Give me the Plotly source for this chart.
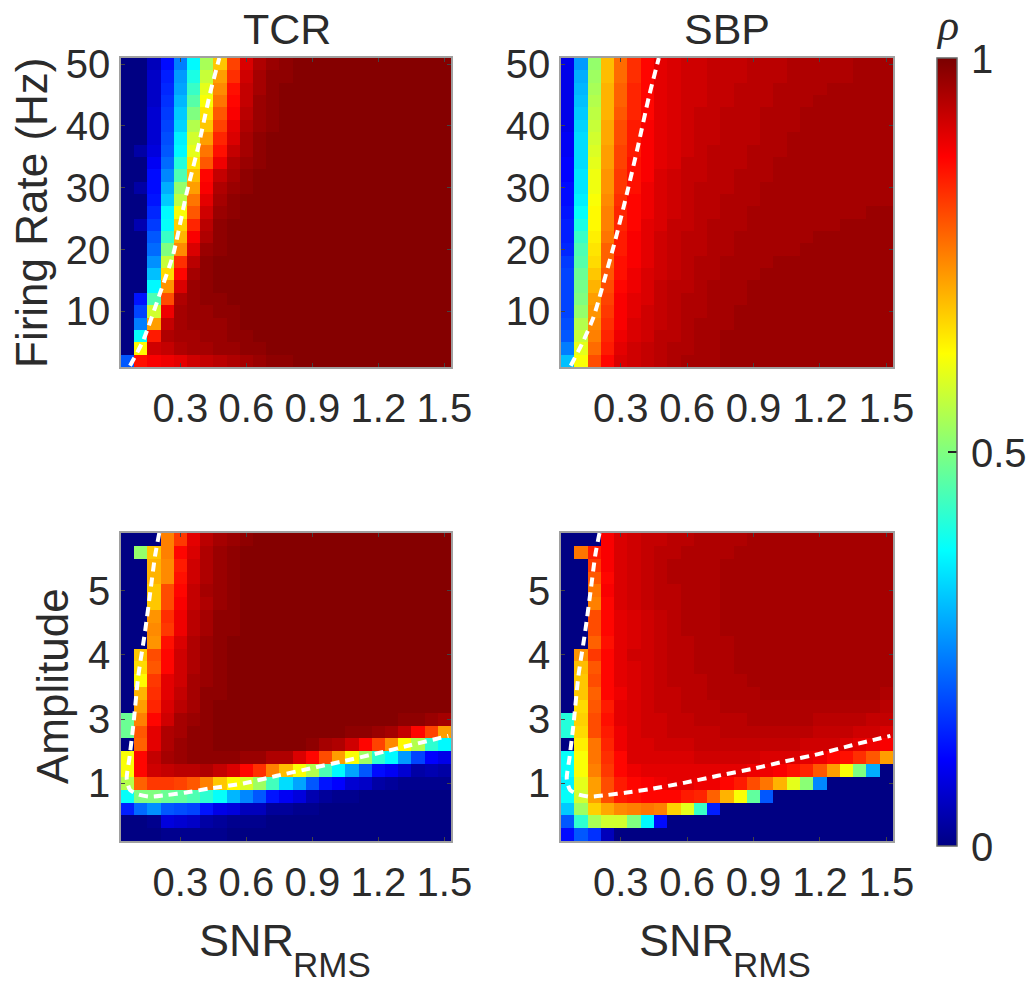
import plotly.graph_objects as go

SNR = [0.06,0.12,0.18,0.24,0.30,0.36,0.42,0.48,0.54,0.60,0.66,0.72,0.78,0.84,0.90,0.96,1.02,1.08,1.14,1.20,1.26,1.32,1.38,1.44,1.50]
RATE = [50,48,46,44,42,40,38,36,34,32,30,28,26,24,22,20,18,16,14,12,10,8,6,4,2]
AMP_ROW = [24,23,22,21,20,19,18,17,16,15,14,13,12,11,10,9,8,7,6,5,4,3,2,1]
SNR_TICKS = [0.3,0.6,0.9,1.2,1.5]
RATE_TICKS = [10,20,30,40,50]
AMP_TICK_ROWS = [5,10,15,20]
AMP_TICK_TEXT = ["1","3","4","5"]

TCR_RATE = [
[0,0,5,12,24,37,54,68,81,91,95,97,98,99,99,99,99,99,99,99,99,99,99,99,99],
[0,0,6,14,27,40,57,72,83,92,96,98,98,99,99,99,99,99,99,99,99,99,99,99,99],
[0,0,6,15,28,43,60,74,86,93,96,98,99,99,99,99,99,99,99,99,99,99,99,99,99],
[0,0,6,16,30,46,62,76,87,93,97,98,99,99,99,99,99,99,99,99,99,99,99,99,99],
[0,0,7,17,32,50,65,79,88,94,97,98,99,99,99,99,99,99,99,99,99,99,99,99,99],
[0,0,7,18,33,55,68,81,90,95,97,98,99,99,99,99,99,99,99,99,99,99,99,99,99],
[0,0,7,19,36,58,72,84,91,96,98,99,99,99,99,99,99,99,99,99,99,99,99,99,99],
[0,3,8,20,37,60,76,86,93,96,98,99,99,99,99,99,99,99,99,99,99,99,99,99,99],
[0,0,10,22,41,65,79,89,95,97,98,99,99,99,99,99,99,99,99,99,99,99,99,99,99],
[0,0,12,25,45,69,87,93,96,98,99,99,99,99,99,99,99,99,99,99,99,99,99,99,99],
[0,3,12,29,52,72,88,95,97,98,99,99,99,99,99,99,99,99,99,99,99,99,99,99,99],
[0,0,13,32,56,76,90,96,98,99,99,99,99,99,99,99,99,99,99,99,99,99,99,99,99],
[0,0,15,37,62,79,92,97,98,99,99,99,99,99,99,99,99,99,99,99,99,99,99,99,99],
[0,4,17,38,67,84,94,98,99,99,99,99,99,99,99,99,99,99,99,99,99,99,99,99,99],
[0,0,20,43,70,88,95,98,99,99,99,99,99,99,99,99,99,99,99,99,99,99,99,99,99],
[0,0,22,50,74,91,97,98,99,99,99,99,99,99,99,99,99,99,99,99,99,99,99,99,99],
[0,0,26,57,83,94,98,99,99,99,99,99,99,99,99,99,99,99,99,99,99,99,99,99,99],
[0,0,31,66,87,96,98,99,99,99,99,99,99,99,99,99,99,99,99,99,99,99,99,99,99],
[0,0,37,73,91,97,98,99,99,99,99,99,99,99,99,99,99,99,99,99,99,99,99,99,99],
[0,13,45,80,95,97,98,98,99,99,99,99,99,99,99,99,99,99,99,99,99,99,99,99,99],
[0,18,58,89,96,97,97,98,98,99,99,99,99,99,99,99,99,99,99,99,99,99,99,99,99],
[0,24,72,93,96,97,97,97,98,99,99,99,99,99,99,99,99,99,99,99,99,99,99,99,99],
[0,38,85,95,96,96,97,97,98,98,99,99,99,99,99,99,99,99,99,99,99,99,99,99,99],
[0,63,92,93,95,96,96,97,97,98,98,99,99,99,99,99,99,99,99,99,99,99,99,99,99],
[20,86,88,89,90,92,93,94,95,96,97,98,98,99,99,99,99,99,99,99,99,99,99,99,99],
]

SBP_RATE = [
[9,27,52,69,77,83,87,90,91,92,92,93,93,93,94,94,94,95,95,95,95,95,96,96,96],
[9,29,53,69,77,83,87,90,91,92,92,93,93,93,94,94,94,95,95,95,95,95,96,96,96],
[9,30,54,70,78,84,87,90,91,92,92,93,93,94,94,94,95,95,95,95,96,96,96,96,96],
[9,31,55,70,78,84,87,90,91,92,92,93,93,94,94,94,95,95,95,96,96,96,96,96,96],
[9,32,56,70,79,84,87,90,91,92,93,93,94,94,94,95,95,95,96,96,96,96,96,96,96],
[9,33,57,71,80,85,88,90,91,92,93,93,94,94,94,95,95,95,96,96,96,96,96,96,96],
[10,34,58,71,80,85,88,90,91,92,93,93,94,94,94,95,95,96,96,96,96,96,96,96,96],
[10,34,59,72,81,85,88,90,91,92,93,94,94,94,95,95,95,96,96,96,96,96,96,96,96],
[11,34,60,72,81,86,88,90,91,93,93,94,94,94,95,95,96,96,96,96,96,96,96,96,96],
[11,35,61,73,82,86,88,91,92,93,93,94,94,95,95,95,96,96,96,96,96,96,96,96,96],
[12,35,61,73,82,86,89,91,92,93,94,94,94,95,95,96,96,96,96,96,96,96,96,96,96],
[12,36,62,74,83,87,89,91,92,93,94,94,95,95,95,96,96,96,96,96,96,96,96,96,96],
[13,38,63,75,84,87,89,91,92,93,94,94,95,95,96,96,96,96,96,96,96,96,96,97,97],
[14,40,63,75,84,87,90,91,93,93,94,95,95,95,96,96,96,96,96,96,96,97,97,97,97],
[14,43,64,76,85,88,90,92,93,94,94,95,95,96,96,96,96,96,96,97,97,97,97,97,97],
[15,45,65,78,85,88,90,92,93,94,94,95,95,96,96,96,96,96,97,97,97,97,97,97,97],
[17,46,66,78,86,88,90,92,93,94,95,95,96,96,96,96,97,97,97,97,97,97,97,97,97],
[18,48,68,79,86,89,91,92,93,94,95,95,96,96,96,97,97,97,97,97,97,97,97,97,97],
[18,49,70,80,87,89,91,93,94,94,95,96,96,96,97,97,97,97,97,97,97,97,97,97,97],
[18,50,72,81,88,90,91,93,94,95,95,96,96,96,97,97,97,97,97,97,97,97,97,97,97],
[18,52,73,82,88,90,92,93,94,95,95,96,96,97,97,97,97,97,97,97,97,97,97,97,97],
[19,55,74,83,88,91,92,93,94,95,96,96,96,97,97,97,97,97,97,97,97,97,97,97,97],
[20,57,75,84,89,91,92,94,94,95,96,96,97,97,97,97,97,97,97,97,97,97,97,97,97],
[24,60,77,85,90,92,93,94,95,95,96,96,97,97,97,97,97,97,97,97,97,97,97,97,97],
[31,62,80,87,91,92,93,94,95,96,96,96,97,97,97,97,97,97,97,97,97,97,97,97,97],
]

TCR_AMP = [
[0,0,0,75,82,90,94,96,97,98,99,99,99,99,99,99,99,99,99,99,99,99,99,99,99],
[0,52,68,75,87,91,95,97,98,99,99,99,99,99,99,99,99,99,99,99,99,99,99,99,99],
[0,0,70,74,85,92,95,97,98,99,99,99,99,99,99,99,99,99,99,99,99,99,99,99,99],
[0,0,70,74,86,92,95,97,98,99,99,99,99,99,99,99,99,99,99,99,99,99,99,99,99],
[0,0,68,80,87,93,96,97,98,99,99,99,99,99,99,99,99,99,99,99,99,99,99,99,99],
[0,0,68,80,88,93,95,97,98,99,99,99,99,99,99,99,99,99,99,99,99,99,99,99,99],
[0,0,73,83,89,94,96,98,98,99,99,99,99,99,99,99,99,99,99,99,99,99,99,99,99],
[0,0,74,82,89,94,96,98,98,99,99,99,99,99,99,99,99,99,99,99,99,99,99,99,99],
[0,0,73,86,91,95,97,98,99,99,99,99,99,99,99,99,99,99,99,99,99,99,99,99,99],
[0,68,80,87,92,95,97,98,99,99,99,99,99,99,99,99,99,99,99,99,99,99,99,99,99],
[0,66,79,87,92,95,97,98,99,99,99,99,99,99,99,99,99,99,99,99,99,99,99,99,99],
[0,63,82,90,92,96,97,98,99,99,99,99,99,99,99,99,99,99,99,99,99,99,99,99,99],
[0,70,83,90,93,96,98,98,99,99,99,99,99,99,99,99,99,99,99,99,99,99,99,99,99],
[0,72,84,91,94,96,98,99,99,99,99,99,99,99,99,99,99,99,99,99,99,99,99,99,99],
[48,75,87,92,96,97,98,99,99,99,99,99,99,99,99,99,99,99,99,99,99,98,98,97,96],
[48,79,90,95,96,98,98,99,99,99,99,99,99,99,99,99,99,98,98,97,96,93,87,81,72],
[0,78,90,95,97,98,98,99,99,99,99,99,99,99,98,96,95,92,87,81,74,63,55,42,37],
[62,87,93,96,97,98,98,98,98,97,97,95,95,91,87,80,72,62,53,42,37,27,18,11,9],
[62,87,92,93,94,94,95,93,91,87,83,75,69,62,55,45,37,28,20,12,10,7,3,4,3],
[55,78,82,82,81,79,75,68,63,59,53,44,34,28,20,13,11,7,6,3,2,1,1,1,1],
[38,50,50,48,47,45,42,38,30,25,20,13,10,8,4,2,1,1,0,0,0,0,0,0,0],
[14,22,26,20,19,18,13,9,8,5,5,2,2,1,1,0,0,0,0,0,0,0,0,0,0],
[0,0,1,8,7,6,3,2,1,1,1,0,0,0,0,0,0,0,0,0,0,0,0,0,0],
[0,0,0,1,1,1,1,1,0,0,0,0,0,0,0,0,0,0,0,0,0,0,0,0,0],
]

SBP_AMP = [
[0,0,0,88,91,92,93,93,94,94,95,95,95,95,96,96,96,96,96,96,96,96,96,96,96],
[0,76,85,88,91,92,93,94,94,95,95,95,95,96,96,96,96,96,96,96,96,96,96,96,96],
[0,0,82,88,91,92,93,94,95,95,95,95,96,96,96,96,96,96,96,96,96,96,96,96,96],
[0,0,79,87,91,92,93,94,95,95,95,95,96,96,96,96,96,96,96,96,96,96,96,96,96],
[0,0,76,88,91,92,93,94,94,95,95,95,96,96,96,96,96,96,96,96,96,96,96,96,96],
[0,0,75,87,91,92,93,94,94,95,95,95,96,96,96,96,96,96,96,96,96,96,96,96,96],
[0,0,80,87,90,91,92,93,94,95,95,95,96,96,96,96,96,96,96,96,96,96,96,96,96],
[0,0,80,87,90,91,92,93,94,95,95,95,96,96,96,96,96,96,96,96,96,96,96,96,96],
[0,0,78,86,90,91,92,93,94,94,95,95,95,96,96,96,96,96,96,96,96,96,96,96,96],
[0,73,82,87,90,92,92,93,94,94,95,95,95,96,96,96,96,96,96,96,96,96,96,96,96],
[0,69,79,87,90,91,92,93,94,94,95,95,95,96,96,96,96,96,96,96,96,96,96,96,96],
[0,68,80,87,90,91,92,93,94,94,94,95,95,95,96,96,96,96,96,96,96,96,96,96,96],
[0,68,78,87,89,91,92,93,93,94,94,95,95,95,95,96,96,96,96,96,96,96,96,96,95],
[0,66,79,85,90,91,92,93,93,94,94,94,95,95,95,95,95,95,95,95,95,95,95,95,94],
[41,67,80,86,90,91,92,92,93,93,94,94,94,94,95,95,95,95,95,94,94,94,94,93,93],
[41,66,80,85,89,91,92,92,93,93,93,93,94,94,94,94,94,94,94,93,93,93,92,92,91],
[0,64,76,84,89,91,91,92,92,92,93,93,93,93,93,93,93,93,92,92,92,91,90,89,88],
[38,62,76,83,87,91,91,91,91,91,92,92,92,92,92,91,91,91,90,89,87,86,83,79,72],
[38,62,75,82,87,89,90,90,90,90,90,90,90,90,89,89,88,86,84,79,72,62,50,29,0],
[36,60,72,80,85,87,88,89,90,90,89,89,87,85,80,76,70,60,51,25,0,0,0,0,0],
[38,58,72,80,85,86,87,87,87,85,84,78,70,62,47,20,0,0,0,0,0,0,0,0,0],
[32,53,67,71,74,75,76,75,67,60,43,14,0,0,0,0,0,0,0,0,0,0,0,0,0],
[20,42,54,58,58,50,37,12,0,0,0,0,0,0,0,0,0,0,0,0,0,0,0,0,0],
[12,20,16,5,0,0,0,0,0,0,0,0,0,0,0,0,0,0,0,0,0,0,0,0,0],
]

TCR_RATE_LINE_X = [0.071,0.131,0.207,0.268,0.328,0.381,0.435,0.477]
TCR_RATE_LINE_Y = [1.2,5.3,12.9,19.3,29.1,36.6,45.3,51]
SBP_RATE_LINE_X = [0.074,0.132,0.177,0.215,0.275,0.328,0.377,0.427,0.472]
SBP_RATE_LINE_Y = [1.2,5.3,9.07,13.7,21.5,29.1,36.6,44.7,51]
AMP_LINE_X = [0.204,0.185,0.165,0.139,0.109,0.086,0.068,0.056,0.071,0.109,0.162,0.238,0.328,0.435,0.586,0.738,0.889,1.041,1.192,1.344,1.518]
TCR_AMP_LINE_Y = [24.5,22.74,20.15,16.78,13.41,9.52,6.93,5.37,4.47,4.13,3.95,4.08,4.28,4.6,4.98,5.58,6.15,6.72,7.32,7.96,8.69]
SBP_AMP_LINE_Y = [24.5,22.8,20.15,16.78,13.41,9.52,6.93,5.37,4.47,4.13,3.95,4.08,4.28,4.55,5.03,5.58,6.1,6.7,7.27,7.96,8.69]

JET = [[0,"rgb(0,0,131)"],[0.11,"rgb(0,0,255)"],[0.375,"rgb(0,255,255)"],[0.625,"rgb(255,255,0)"],[0.875,"rgb(255,0,0)"],[1,"rgb(122,0,0)"]]

W, H = 1027, 983
FONT = "Liberation Sans, Arial, sans-serif"
INK = "#2b2b2b"
SIZE = 40

def pct(rows):
    return [[v / 100 for v in r] for r in rows]

def xdom(a, b):
    return [a / W, b / W]

def ydom(top, bot):
    return [1 - bot / H, 1 - top / H]

fig = go.Figure()
panels = [
    (1, TCR_RATE, RATE, TCR_RATE_LINE_X, TCR_RATE_LINE_Y, (121, 451), (58, 367)),
    (2, SBP_RATE, RATE, SBP_RATE_LINE_X, SBP_RATE_LINE_Y, (561, 893), (58, 367)),
    (3, TCR_AMP, AMP_ROW, AMP_LINE_X, TCR_AMP_LINE_Y, (121, 451), (533, 841)),
    (4, SBP_AMP, AMP_ROW, AMP_LINE_X, SBP_AMP_LINE_Y, (561, 893), (533, 841)),
]
layout = {}
for n, z, y, lx, ly, xd, yd in panels:
    suf = "" if n == 1 else str(n)
    fig.add_trace(go.Heatmap(x=SNR, y=y, z=pct(z), coloraxis="coloraxis", xaxis="x" + suf, yaxis="y" + suf,
                             xgap=0, ygap=0, hoverongaps=False))
    fig.add_trace(go.Scatter(x=lx, y=ly, mode="lines", xaxis="x" + suf, yaxis="y" + suf, showlegend=False,
                             line=dict(color="white", width=4, dash="9px,6px", shape="spline", smoothing=0.6)))
    layout["xaxis" + suf] = dict(
        domain=xdom(*xd), anchor="y" + suf, range=[0.03, 1.53], tickvals=SNR_TICKS, ticktext=["0.3", "0.6", "0.9", "1.2", "1.5"],
        ticks="inside", ticklen=4, tickwidth=1, tickcolor="#444", showline=True, linecolor="#a0a0a0", linewidth=1.5,
        mirror="ticks", showgrid=False, zeroline=False, tickfont=dict(family=FONT, size=SIZE, color=INK),
        tickangle=0, ticklabelstandoff=5)
    if n <= 2:
        yr, tv, tt = [1, 51], RATE_TICKS, [str(t) for t in RATE_TICKS]
    else:
        yr, tv, tt = [0.5, 24.5], AMP_TICK_ROWS, AMP_TICK_TEXT
    layout["yaxis" + suf] = dict(
        domain=ydom(*yd), anchor="x" + suf, range=yr, tickvals=tv, ticktext=tt,
        ticks="inside", ticklen=4, tickwidth=1, tickcolor="#444", showline=True, linecolor="#a0a0a0", linewidth=1.5,
        mirror="ticks", showgrid=False, zeroline=False, tickfont=dict(family=FONT, size=SIZE, color=INK), ticklabelstandoff=1)

def note(text, x, y, size=SIZE, rot=0, fam=FONT, xanchor="center"):
    return dict(text=text, x=x / W, y=1 - y / H, xref="paper", yref="paper", showarrow=False, xanchor=xanchor, yanchor="middle",
                textangle=rot, font=dict(family=fam, size=size, color=INK))

annotations = [
    note("TCR", 287, 29, 43), note("SBP", 727, 29, 43),
    note("Firing Rate (Hz)", 31, 213, 44, -90), note("Amplitude", 52, 686, 44, -90),
    note("SNR", 246, 940, 45), note("RMS", 332, 964, 35),
    note("SNR", 686, 940, 45), note("RMS", 772, 964, 35),
    note("<i>ρ</i>", 947, 26, 44, 0, "Liberation Serif, DejaVu Serif, serif"),
    note("1", 969, 59, SIZE, xanchor="left"), note("0.5", 969, 453, SIZE, xanchor="left"), note("0", 969, 847, SIZE, xanchor="left"),
]

fig.update_layout(
    width=W, height=H, margin=dict(l=0, r=0, t=0, b=0, autoexpand=False), paper_bgcolor="white", plot_bgcolor="white", showlegend=False,
    annotations=annotations,
    coloraxis=dict(cmin=0, cmax=1, colorscale=JET, colorbar=dict(
        x=936.7 / W, xanchor="left", xpad=0, ypad=0, y=1 - 451.7 / H, yanchor="middle", len=788 / H, lenmode="fraction",
        thickness=20, thicknessmode="pixels", outlinecolor="#666", outlinewidth=1.5, tickvals=[0.5], ticktext=[""],
        ticks="inside", ticklen=9, tickcolor="#222", tickwidth=1.5, showticklabels=False)),
    **layout)
fig.write_html("out.html", config={"displayModeBar": False}, post_script="document.body.style.margin='0';")
